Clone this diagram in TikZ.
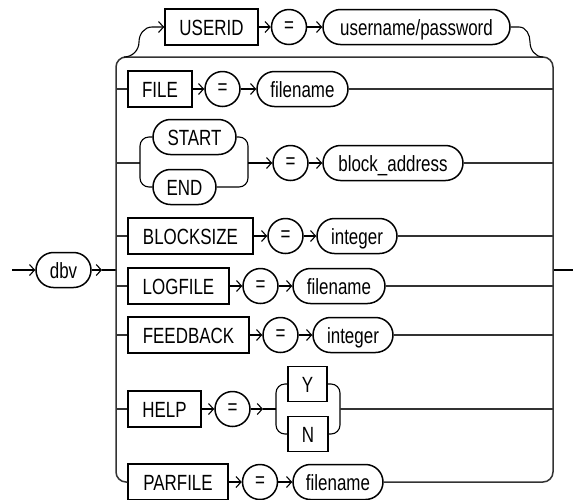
\documentclass[tikz,border=0pt]{standalone}
\usepackage{fontspec}
\newfontfamily\rrfont[FakeStretch=0.77]{Liberation Sans}
\usetikzlibrary{arrows.meta}
\begin{document}
\begin{tikzpicture}[x=1pt,y=-1pt,
  every node/.style={font=\rrfont\fontsize{22}{24}\selectfont, inner sep=0pt, line width=1.5pt},
  kw/.style={draw, rectangle, minimum height=36pt, text height=16pt, text depth=0pt},
  var/.style={draw, rectangle, rounded corners=17.5pt, minimum height=35pt, text height=16pt, text depth=0pt},
  op/.style={draw, circle, minimum size=35pt},
  conn/.style={line width=1.1pt, black},
  arr/.style={conn, -{Straight Barb[length=5pt,width=11pt,line width=1.1pt]}},
  rail/.style={line width=1.5pt, black!80},
]
\useasboundingbox (0,0) rectangle (573,499);

% bus coordinates
\coordinate (busL) at (116,270);
\coordinate (busR) at (553,270);
\coordinate (topL) at (116,57);
\coordinate (topR) at (553,57);
\coordinate (entry) at (12,270);
\coordinate (exitE) at (573,270);
\coordinate (dbvArr) at (102,270);

% nodes
\node[var, minimum width=55pt] (dbv) at (63.5,270) {dbv};

\node[kw, minimum width=93pt] (userid) at (211.5,27) {USERID};
\node[op] (eq1) at (289,27) {=};
\node[var, minimum width=187pt] (userpw) at (416.5,27) {username/password};

\node[kw, minimum width=64pt] (file) at (160,89) {FILE};
\node[op] (eq2) at (222.5,89) {=};
\node[var, minimum width=91pt] (fn1) at (302.5,89) {filename};

\node[var, minimum width=83pt] (start) at (194.5,137) {START};
\node[var, minimum width=63pt] (end) at (184.5,187) {END};
\node[op] (eq3) at (290.5,163) {=};
\node[var, minimum width=140pt] (baddr) at (393,163) {block\_address};

\node[kw, minimum width=125pt] (bsize) at (190.5,236) {BLOCKSIZE};
\node[op] (eq4) at (285.5,236) {=};
\node[var, minimum width=80pt] (int1) at (357,236) {integer};

\node[kw, minimum width=101pt] (logf) at (178.5,286) {LOGFILE};
\node[op] (eq5) at (260.5,286) {=};
\node[var, minimum width=92pt] (fn2) at (339,286) {filename};

\node[kw, minimum width=121pt] (feed) at (188.5,335) {FEEDBACK};
\node[op] (eq6) at (280.5,335) {=};
\node[var, minimum width=80pt] (int2) at (353,335) {integer};

\node[kw, minimum width=73pt] (help) at (164.5,409) {HELP};
\node[op] (eq7) at (232.5,409) {=};
\node[kw, minimum width=39pt, minimum height=35pt] (yy) at (307.5,384) {Y};
\node[kw, minimum width=40pt, minimum height=35pt] (nn) at (308,434) {N};

\node[kw, minimum width=100pt] (parf) at (178,482) {PARFILE};
\node[op] (eq8) at (260,482) {=};
\node[var, minimum width=90pt] (fn3) at (338,482) {filename};

% entry / exit
\draw[arr] (entry) -- (dbv.west);
\draw[arr] (dbv.east) -- (dbvArr);
\draw[conn] (dbvArr) -- (busL);
\draw[conn] (busR) -- (exitE);

% main bus loop (left bus, top line, right bus, PARFILE row)
\draw[rail, rounded corners=10pt] (parf.west) -| (topL) -- (topR) |- (fn3.east);

% USERID branch
\coordinate (u0) at (124,57);
\coordinate (u1) at (139,42);
\coordinate (u2) at (152,27);
\coordinate (v0) at (519,27);
\coordinate (v1) at (530,42);
\coordinate (v2) at (543,57);
\draw[arr] (u0) to[out=0,in=270] (u1) to[out=90,in=180] (u2) -- (userid.west);
\draw[arr] (userid.east) -- (eq1.west);
\draw[arr] (eq1.east) -- (userpw.west);
\draw[conn] (userpw.east) -- (v0) to[out=0,in=90] (v1) to[out=270,in=180] (v2);

% FILE
\draw[rail] (file.west -| busL) -- (file.west);
\draw[arr] (file.east) -- (eq2.west);
\draw[arr] (eq2.east) -- (fn1.west);
\draw[rail] (fn1.east) -- (fn1.east -| busR);

% START / END
\coordinate (seL) at (140,163);
\coordinate (seR) at (248,163);
\draw[rail] (seL -| busL) -- (seL);
\draw[conn, rounded corners=9pt] (start.west) -| (seL) |- (end.west);
\draw[conn, rounded corners=9pt] (start.east) -| (seR) |- (end.east);
\draw[arr] (seR) -- (eq3.west);
\draw[arr] (eq3.east) -- (baddr.west);
\draw[rail] (baddr.east) -- (baddr.east -| busR);

% BLOCKSIZE
\draw[rail] (bsize.west -| busL) -- (bsize.west);
\draw[arr] (bsize.east) -- (eq4.west);
\draw[arr] (eq4.east) -- (int1.west);
\draw[rail] (int1.east) -- (int1.east -| busR);

% LOGFILE
\draw[rail] (logf.west -| busL) -- (logf.west);
\draw[arr] (logf.east) -- (eq5.west);
\draw[arr] (eq5.east) -- (fn2.west);
\draw[rail] (fn2.east) -- (fn2.east -| busR);

% FEEDBACK
\draw[rail] (feed.west -| busL) -- (feed.west);
\draw[arr] (feed.east) -- (eq6.west);
\draw[arr] (eq6.east) -- (int2.west);
\draw[rail] (int2.east) -- (int2.east -| busR);

% HELP
\coordinate (hA) at (263,409);
\coordinate (hL) at (276,409);
\coordinate (hR) at (340,409);
\draw[rail] (help.west -| busL) -- (help.west);
\draw[arr] (help.east) -- (eq7.west);
\draw[arr] (eq7.east) -- (hA);
\draw[conn] (hA) -- (hL);
\draw[conn, rounded corners=9pt] (yy.west) -| (hL) |- (nn.west);
\draw[conn, rounded corners=9pt] (yy.east) -| (hR) |- (nn.east);
\draw[rail] (hR) -- (hR -| busR);

% PARFILE
\draw[arr] (parf.east) -- (eq8.west);
\draw[arr] (eq8.east) -- (fn3.west);
\end{tikzpicture}
\end{document}
